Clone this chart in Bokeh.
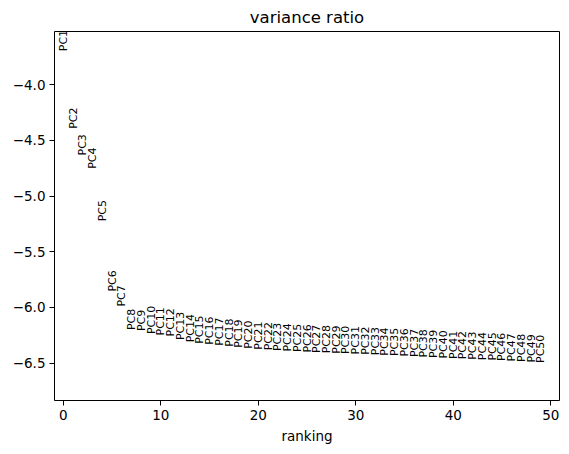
from bokeh.plotting import figure
from bokeh.models import ColumnDataSource, FixedTicker, Range1d
from bokeh.core.properties import value
from bokeh.embed import file_html
from bokeh.resources import INLINE
import math

labels = ["PC%d" % (i + 1) for i in range(50)]
ranking = list(range(50))
score = [-3.698, -4.395, -4.635, -4.755, -5.226, -5.857, -5.992, -6.203, -6.212, -6.239,
         -6.252, -6.261, -6.293, -6.313, -6.327, -6.336, -6.345, -6.353, -6.363, -6.372,
         -6.380, -6.385, -6.392, -6.396, -6.401, -6.405, -6.409, -6.412, -6.416, -6.419,
         -6.422, -6.426, -6.429, -6.434, -6.437, -6.441, -6.446, -6.450, -6.455, -6.459,
         -6.463, -6.466, -6.470, -6.474, -6.477, -6.482, -6.486, -6.490, -6.495, -6.499]
x_ticks = [0, 10, 20, 30, 40, 50]
y_ticks = [-6.5, -6.0, -5.5, -5.0, -4.5, -4.0]

src = ColumnDataSource(dict(x=ranking, y=score, label=labels))

FONT = "DejaVu Sans"
p = figure(width=569, height=454, output_backend="svg", toolbar_location=None,
           x_range=Range1d(-0.9, 50.9), y_range=Range1d(-6.836, -3.521),
           title="variance ratio", min_border_left=54, min_border_right=10,
           min_border_top=31, min_border_bottom=54)
p.text(x="x", y="y", text="label", source=src, angle=math.pi / 2,
       text_align="left", text_baseline="middle",
       text_font=value(FONT), text_font_size="11px", text_color="black")

p.title.align = "center"
p.title.text_font = FONT
p.title.text_font_style = "normal"
p.title.text_font_size = "16.5px"
p.title.text_color = "black"

p.xgrid.visible = False
p.ygrid.visible = False
p.outline_line_color = "black"
p.outline_line_width = 1
p.background_fill_color = "white"
p.border_fill_color = "white"

for ax in (p.xaxis[0], p.yaxis[0]):
    ax.axis_line_color = None
    ax.major_tick_out = 5
    ax.major_tick_in = 0
    ax.minor_tick_out = 0
    ax.minor_tick_in = 0
    ax.major_tick_line_color = "black"
    ax.major_label_text_font = FONT
    ax.major_label_text_font_size = "13.5px"
    ax.major_label_text_color = "black"
    ax.axis_label_text_font = FONT
    ax.axis_label_text_font_size = "13.5px"
    ax.axis_label_text_font_style = "normal"
    ax.axis_label_text_color = "black"

p.xaxis.ticker = FixedTicker(ticks=x_ticks)
p.yaxis.ticker = FixedTicker(ticks=y_ticks)
p.yaxis.major_label_overrides = {t: ("\u2212%.1f" % abs(t)) for t in y_ticks}
p.xaxis.axis_label = "ranking"
p.xaxis.major_label_standoff = 4
p.yaxis.major_label_standoff = 4

open("out.html", "w").write(file_html(p, INLINE))
